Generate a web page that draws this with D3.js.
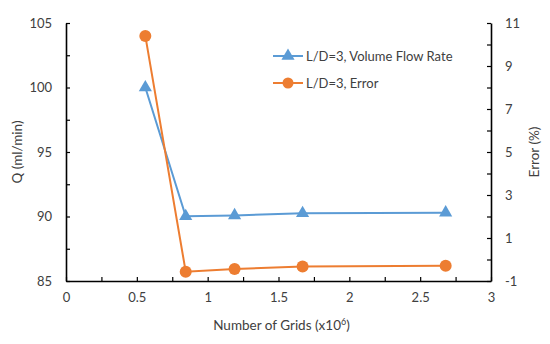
<!DOCTYPE html>
<html>
<head>
<meta charset="utf-8">
<script src="https://cdn.jsdelivr.net/npm/d3@7"></script>
<style>
  body { margin: 0; background: #fff; }
  text { font-family: Lato, "Open Sans", sans-serif; fill: #404040; }
</style>
</head>
<body>
<div id="chart"></div>
<script>
// values
const grids = [0.56, 0.845, 1.19, 1.67, 2.68];
const flowRate = [100.0, 90.02, 90.08, 90.25, 90.3];
const errorPct = [10.4, -0.57, -0.44, -0.33, -0.29];

const xTicks = [0, 0.25, 0.5, 0.75, 1, 1.25, 1.5, 1.75, 2, 2.25, 2.5, 2.75, 3];
const xLabels = [0, 0.5, 1, 1.5, 2, 2.5, 3];
const qTicks = [85, 87.5, 90, 92.5, 95, 97.5, 100, 102.5, 105];
const qLabels = [85, 90, 95, 100, 105];
const errTicks = [-1, 0, 1, 2, 3, 4, 5, 6, 7, 8, 9, 10, 11];
const errLabels = [-1, 1, 3, 5, 7, 9, 11];

const seriesNames = ["L/D=3, Volume Flow Rate", "L/D=3, Error"];
const colours = ["#5B9BD5", "#ED7D31"];

const width = 550;
const height = 344;
const margin = { top: 23, right: 59, bottom: 63, left: 66 };

const svg = d3.select("#chart")
  .append("svg")
  .attr("width", width)
  .attr("height", height);

const x = d3.scaleLinear().domain([0, 3]).range([margin.left, width - margin.right]);
const yQ = d3.scaleLinear().domain([85, 105]).range([height - margin.bottom, margin.top]);
const yErr = d3.scaleLinear().domain([-1, 11]).range([height - margin.bottom, margin.top]);

function styleAxis(g) {
  g.select(".domain").attr("stroke", "#000").attr("stroke-width", 1.6);
  g.selectAll(".tick line").attr("stroke", "#000").attr("stroke-width", 1.2);
  g.selectAll(".tick text").style("font-size", "13px").attr("fill", "#404040");
}

// axes, ticks point inward
svg.append("g")
  .attr("transform", `translate(0,${height - margin.bottom})`)
  .call(d3.axisBottom(x)
    .tickValues(xTicks)
    .tickSizeInner(-4).tickSizeOuter(0).tickPadding(12)
    .tickFormat(d => xLabels.includes(d) ? d3.format("")(d) : ""))
  .call(styleAxis);

svg.append("g")
  .attr("transform", `translate(${margin.left},0)`)
  .call(d3.axisLeft(yQ)
    .tickValues(qTicks)
    .tickSizeInner(-4).tickSizeOuter(0).tickPadding(14)
    .tickFormat(d => qLabels.includes(d) ? d : ""))
  .call(styleAxis);

svg.append("g")
  .attr("transform", `translate(${width - margin.right},0)`)
  .call(d3.axisRight(yErr)
    .tickValues(errTicks)
    .tickSizeInner(-4).tickSizeOuter(0).tickPadding(14)
    .tickFormat(d => errLabels.includes(d) ? d : ""))
  .call(styleAxis);

// axis titles
svg.append("text")
  .attr("x", (x.range()[0] + x.range()[1]) / 2 + 3)
  .attr("y", 330)
  .attr("text-anchor", "middle")
  .style("font-size", "13.5px")
  .html('Number of Grids (x10<tspan dy="-5" style="font-size:9px">6</tspan><tspan dy="5">)</tspan>');

svg.append("text")
  .attr("transform", `translate(22,${(yQ.range()[0] + yQ.range()[1]) / 2}) rotate(-90)`)
  .attr("text-anchor", "middle")
  .style("font-size", "13.5px")
  .text("Q (ml/min)");

svg.append("text")
  .attr("transform", `translate(539,${(yErr.range()[0] + yErr.range()[1]) / 2}) rotate(-90)`)
  .attr("text-anchor", "middle")
  .style("font-size", "13.5px")
  .text("Error (%)");

// series
const flowData = grids.map((g, i) => [g, flowRate[i]]);
const errData = grids.map((g, i) => [g, errorPct[i]]);

const lineQ = d3.line().x(d => x(d[0])).y(d => yQ(d[1]));
const lineErr = d3.line().x(d => x(d[0])).y(d => yErr(d[1]));

svg.append("path")
  .datum(flowData)
  .attr("fill", "none")
  .attr("stroke", colours[0])
  .attr("stroke-width", 2)
  .attr("d", lineQ);

svg.append("path")
  .datum(errData)
  .attr("fill", "none")
  .attr("stroke", colours[1])
  .attr("stroke-width", 2)
  .attr("d", lineErr);

const tri = d3.symbol().type(d3.symbolTriangle).size(75);

svg.append("g")
  .selectAll("path")
  .data(flowData)
  .enter()
  .append("path")
  .attr("d", tri)
  .attr("transform", d => `translate(${x(d[0])},${yQ(d[1])})`)
  .attr("fill", colours[0]);

svg.append("g")
  .selectAll("circle")
  .data(errData)
  .enter()
  .append("circle")
  .attr("cx", d => x(d[0]))
  .attr("cy", d => yErr(d[1]))
  .attr("r", 6)
  .attr("fill", colours[1]);

// legend
const legend = svg.append("g").attr("transform", "translate(273,56)");
seriesNames.forEach((name, i) => {
  const g = legend.append("g").attr("transform", `translate(0,${i * 27})`);
  g.append("line")
    .attr("x1", 0).attr("x2", 30)
    .attr("stroke", colours[i]).attr("stroke-width", 2);
  if (i === 0) {
    g.append("path").attr("d", tri).attr("transform", "translate(15,0)").attr("fill", colours[i]);
  } else {
    g.append("circle").attr("cx", 15).attr("r", 5.5).attr("fill", colours[i]);
  }
  g.append("text")
    .attr("x", 33)
    .attr("y", 0)
    .attr("dy", "0.35em")
    .style("font-size", "13px")
    .text(name);
});
</script>
</body>
</html>
